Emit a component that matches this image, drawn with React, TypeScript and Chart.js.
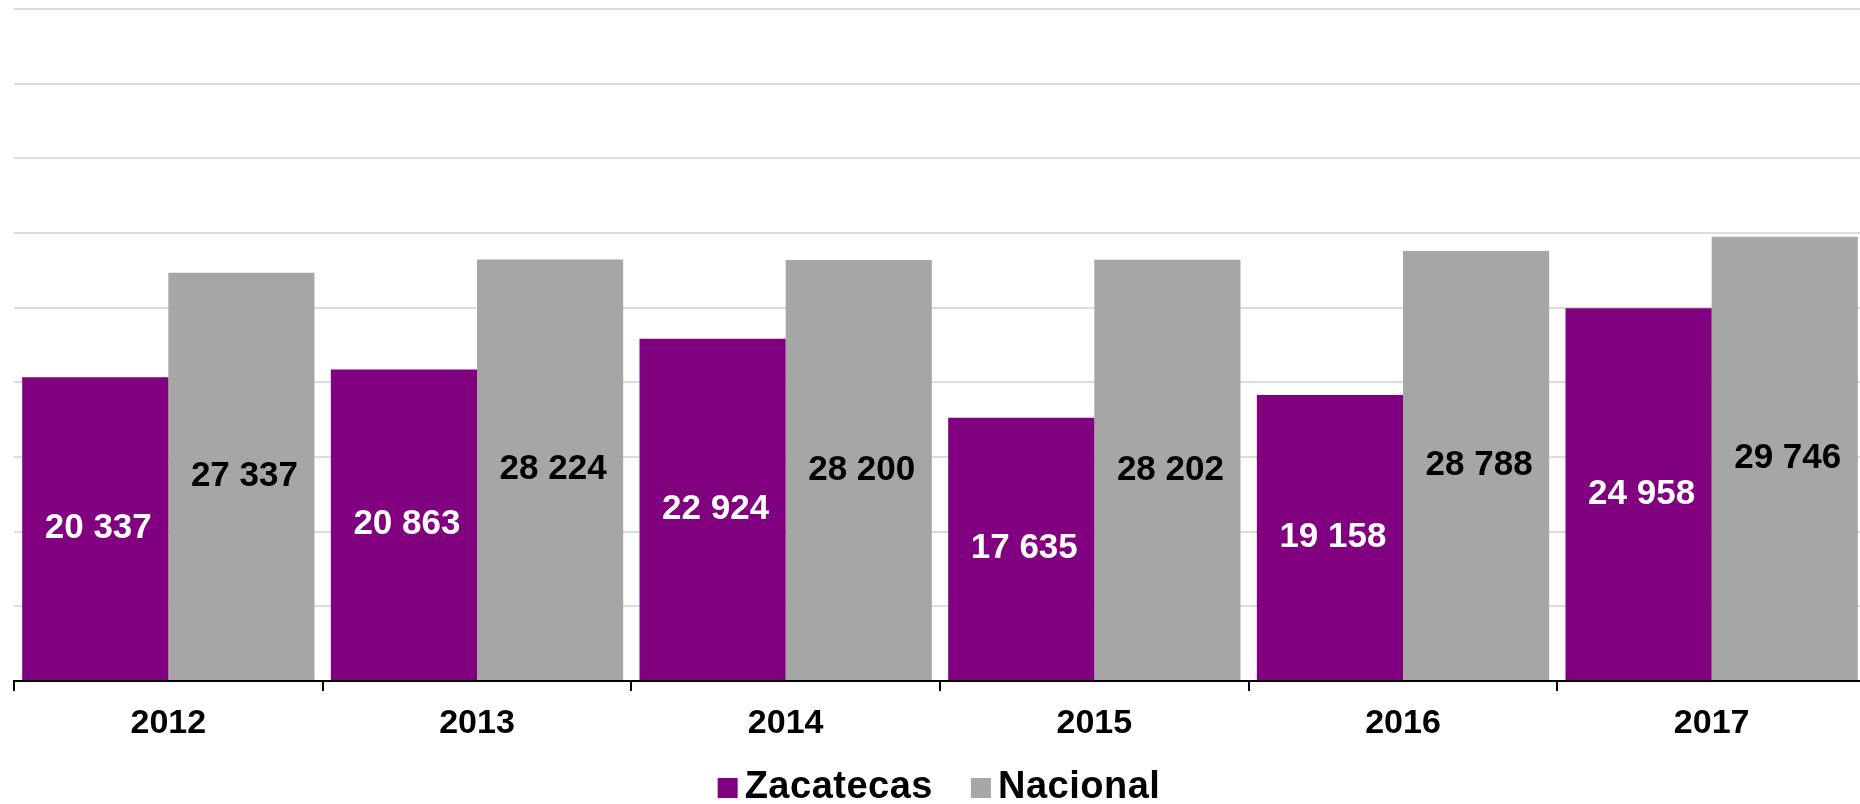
import React, { useEffect, useRef } from 'react';
import { Chart, registerables } from 'chart.js';

Chart.register(...registerables);

const categories = ['2012', '2013', '2014', '2015', '2016', '2017'];
const zacatecas = [20337, 20863, 22924, 17635, 19158, 24958];
const nacional = [27337, 28224, 28200, 28202, 28788, 29746];
const seriesNames = ['Zacatecas', 'Nacional'];
const seriesColors = ['#800080', '#a6a6a6'];
const labelColors = ['#ffffff', '#000000'];

const FONT = '"Liberation Sans", Arial, sans-serif';
const fmt = (v: number) => String(v).replace(/\B(?=(\d{3})+(?!\d))/g, ' ');

const valueLabels = {
  id: 'valueLabels',
  afterDatasetsDraw(chart: any) {
    const ctx = chart.ctx;
    ctx.save();
    ctx.font = `bold 35px ${FONT}`;
    ctx.textAlign = 'center';
    ctx.textBaseline = 'middle';
    chart.data.datasets.forEach((ds: any, i: number) => {
      const meta = chart.getDatasetMeta(i);
      meta.data.forEach((el: any, j: number) => {
        const p = el.getProps(['x', 'y', 'base'], true);
        ctx.fillStyle = labelColors[i];
        ctx.fillText(fmt(ds.data[j]), p.x + 3, (p.y + p.base) / 2);
      });
    });
    ctx.restore();
  },
};

const bottomLegend = {
  id: 'bottomLegend',
  afterDraw(chart: any) {
    const ctx = chart.ctx;
    ctx.save();
    ctx.font = `bold 38px ${FONT}`;
    try {
      (ctx as any).letterSpacing = '0.5px';
    } catch (e) {}
    const box = 20;
    const gapText = 7;
    const gapItem = 38;
    const items = chart.data.datasets.map((ds: any) => ({
      label: ds.label,
      color: ds.backgroundColor,
      w: ctx.measureText(ds.label).width,
    }));
    const total =
      items.reduce((s: number, it: any) => s + box + gapText + it.w, 0) +
      gapItem * (items.length - 1);
    const cx = (chart.chartArea.left + chart.chartArea.right) / 2 - 1;
    let x = cx - total / 2;
    const baseY = chart.height - 6;
    ctx.textAlign = 'left';
    ctx.textBaseline = 'alphabetic';
    items.forEach((it: any) => {
      ctx.fillStyle = it.color;
      ctx.fillRect(x, baseY - box, box, box);
      x += box + gapText;
      ctx.fillStyle = '#000000';
      ctx.fillText(it.label, x, baseY);
      x += it.w + gapItem;
    });
    ctx.restore();
  },
};

export default function App() {
  const ref = useRef<HTMLCanvasElement | null>(null);

  useEffect(() => {
    if (!ref.current) return;
    const chart = new Chart(ref.current, {
      type: 'bar',
      data: {
        labels: categories,
        datasets: [
          {
            label: seriesNames[0],
            data: zacatecas,
            backgroundColor: seriesColors[0],
            borderWidth: 0,
            categoryPercentage: 0.947,
            barPercentage: 1,
          },
          {
            label: seriesNames[1],
            data: nacional,
            backgroundColor: seriesColors[1],
            borderWidth: 0,
            categoryPercentage: 0.947,
            barPercentage: 1,
          },
        ],
      },
      options: {
        responsive: false,
        animation: false,
        layout: { padding: { left: 14, right: 14, top: 9, bottom: 60 } },
        plugins: {
          legend: { display: false },
          tooltip: { enabled: false },
        },
        scales: {
          x: {
            offset: true,
            grid: {
              offset: true,
              drawOnChartArea: false,
              drawTicks: true,
              tickLength: 10,
              color: '#000000',
              lineWidth: 2,
            },
            border: { display: true, color: '#000000', width: 2 },
            ticks: {
              color: '#000000',
              padding: 12,
              font: { family: FONT, size: 34, weight: 'bold' },
            },
            afterFit: (scale: any) => {
              scale.height = 63;
            },
          },
          y: {
            min: 0,
            max: 45000,
            ticks: { display: false, stepSize: 5000 },
            grid: { color: '#dcdcdc', lineWidth: 2, drawTicks: false },
            border: { display: false },
          },
        },
      },
      plugins: [valueLabels, bottomLegend],
    });
    return () => chart.destroy();
  }, []);

  return (
    <div
      style={{
        position: 'fixed',
        left: 0,
        top: 0,
        width: 1860,
        height: 804,
        overflow: 'hidden',
        background: '#ffffff',
      }}
    >
      <canvas ref={ref} width={1880} height={804} style={{ display: 'block' }} />
    </div>
  );
}
